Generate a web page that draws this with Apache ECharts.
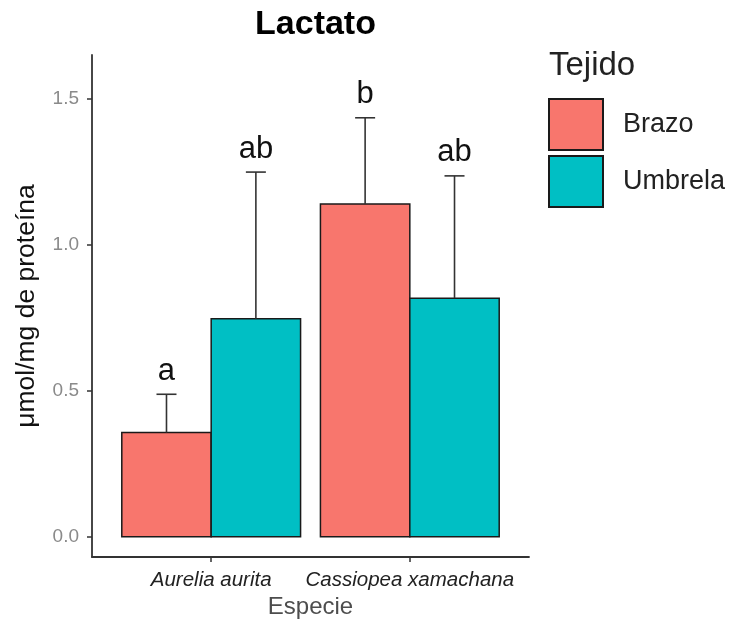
<!DOCTYPE html>
<html>
<head>
<meta charset="utf-8">
<script src="https://cdn.jsdelivr.net/npm/echarts@6/dist/echarts.min.js"></script>
<style>
html,body{margin:0;padding:0;background:#fff;}
#chart{width:731px;height:624px;}
</style>
</head>
<body>
<div id="chart"></div>
<script>
// ---- data ----
const categories = ['Aurelia aurita', 'Cassiopea xamachana'];
const tissues = ['Brazo', 'Umbrela'];
const brazoMean = [0.357, 1.140];
const brazoUpper = [0.488, 1.435];
const umbrelaMean = [0.747, 0.817];
const umbrelaUpper = [1.249, 1.236];
const brazoLetters = ['a', 'b'];
const umbrelaLetters = ['ab', 'ab'];
const yTicks = [0, 0.5, 1.0, 1.5];

// ---- style ----
const FONT = "'Liberation Sans', Arial, Helvetica, sans-serif";
const colors = {Brazo: '#F8766D', Umbrela: '#00BFC4'};
const BAR_HALF = 0.225;   // half of a dodged bar, in category units
const CAP_HALF = 10;      // px

function makeRender(offset, letters, color) {
  return function (params, api) {
    const xc = api.value(0) + offset;
    const mean = api.value(1);
    const up = api.value(2);
    const pBL = api.coord([xc - BAR_HALF, 0]);
    const pTR = api.coord([xc + BAR_HALF, mean]);
    const pC = api.coord([xc, mean]);
    const pU = api.coord([xc, up]);
    return {
      type: 'group',
      children: [
        {
          type: 'rect',
          shape: {x: pBL[0], y: pTR[1], width: pTR[0] - pBL[0], height: pBL[1] - pTR[1]},
          style: {fill: color, stroke: '#1a1a1a', lineWidth: 1.5}
        },
        {
          type: 'line',
          shape: {x1: pC[0], y1: pC[1], x2: pU[0], y2: pU[1]},
          style: {stroke: '#333333', lineWidth: 1.6}
        },
        {
          type: 'line',
          shape: {x1: pU[0] - CAP_HALF, y1: pU[1], x2: pU[0] + CAP_HALF, y2: pU[1]},
          style: {stroke: '#333333', lineWidth: 1.6}
        },
        {
          type: 'text',
          x: pU[0], y: pU[1] - 7.5,
          style: {
            text: letters[params.dataIndex],
            align: 'center', verticalAlign: 'bottom',
            fontFamily: FONT, fontSize: 31, fill: '#111111'
          }
        }
      ]
    };
  };
}

const brazoData = categories.map((c, i) => [i + 1, brazoMean[i], brazoUpper[i]]);
const umbrelaData = categories.map((c, i) => [i + 1, umbrelaMean[i], umbrelaUpper[i]]);

const chart = echarts.init(document.getElementById('chart'), null, {renderer: 'canvas'});
chart.setOption({
  backgroundColor: '#ffffff',
  animation: false,
  title: [
    {
      text: 'Lactato', left: 310.5, top: 3, textAlign: 'center',
      textStyle: {fontFamily: FONT, fontSize: 34, fontWeight: 'bold', color: '#000'}
    },
    {
      text: 'Tejido', left: 544, top: 44,
      textStyle: {fontFamily: FONT, fontSize: 33, fontWeight: 'normal', color: '#222'}
    }
  ],
  legend: {
    orient: 'vertical',
    left: 543, top: 93,
    itemWidth: 54, itemHeight: 51, itemGap: 4,
    textStyle: {fontFamily: FONT, fontSize: 27, color: '#222', padding: [0, 0, 0, 15]},
    data: tissues.map(t => ({
      name: t, icon: 'rect',
      itemStyle: {color: colors[t], borderColor: '#1a1a1a', borderWidth: 2}
    }))
  },
  grid: {left: 92, right: 202, top: 55, bottom: 63, containLabel: false},
  xAxis: {
    type: 'value', min: 0.4, max: 2.6,
    name: 'Especie', nameLocation: 'middle', nameGap: 36,
    nameTextStyle: {fontFamily: FONT, fontSize: 24, color: '#4d4d4d'},
    axisLine: {onZero: false, lineStyle: {color: '#333', width: 1.8}},
    axisTick: {customValues: [1, 2], length: 5, lineStyle: {color: '#333', width: 1.5}},
    axisLabel: {
      customValues: [1, 2],
      formatter: v => categories[Math.round(v) - 1],
      fontFamily: FONT, fontSize: 20.5, fontStyle: 'italic', color: '#222', margin: 13
    },
    splitLine: {show: false}
  },
  yAxis: {
    type: 'value', min: -0.0697, max: 1.65,
    name: 'μmol/mg de proteína', nameLocation: 'middle', nameGap: 52,
    nameTextStyle: {fontFamily: FONT, fontSize: 26.5, color: '#111'},
    axisLine: {onZero: false, lineStyle: {color: '#333', width: 1.8}},
    axisTick: {customValues: yTicks, length: 5, lineStyle: {color: '#333', width: 1.5}},
    axisLabel: {
      customValues: yTicks,
      formatter: v => v.toFixed(1),
      fontFamily: FONT, fontSize: 19, color: '#8a8a8a', margin: 13
    },
    splitLine: {show: false}
  },
  series: [
    {
      name: 'Brazo', type: 'custom',
      itemStyle: {color: colors.Brazo},
      renderItem: makeRender(-BAR_HALF, brazoLetters, colors.Brazo),
      encode: {x: 0, y: [1, 2]},
      data: brazoData
    },
    {
      name: 'Umbrela', type: 'custom',
      itemStyle: {color: colors.Umbrela},
      renderItem: makeRender(BAR_HALF, umbrelaLetters, colors.Umbrela),
      encode: {x: 0, y: [1, 2]},
      data: umbrelaData
    }
  ]
});
</script>
</body>
</html>
